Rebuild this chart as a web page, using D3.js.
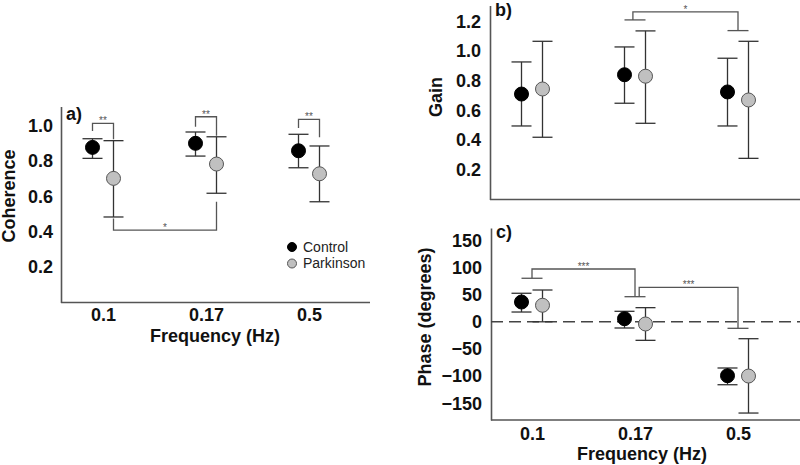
<!DOCTYPE html>
<html><head><meta charset="utf-8">
<script src="https://cdn.jsdelivr.net/npm/d3@7"></script>
<style>
body{margin:0;background:#fff;}
svg text{font-family:"Liberation Sans",Arial,sans-serif;}
</style></head>
<body><svg id="c" width="800" height="465"></svg>
<script>
const categories = ["0.1","0.17","0.5"];
const seriesNames = ["Control","Parkinson"];

// Panel a: coherence
const coherenceControl   = [0.876, 0.899, 0.857];
const coherenceControlLo = [0.814, 0.827, 0.761];
const coherenceControlHi = [0.925, 0.963, 0.950];
const coherencePark      = [0.701, 0.782, 0.727];
const coherenceParkLo    = [0.483, 0.617, 0.569];
const coherenceParkHi    = [0.914, 0.936, 0.884];
const coherenceTicks = [0.2, 0.4, 0.6, 0.8, 1.0];

// Panel b: gain
const gainControl   = [0.710, 0.840, 0.724];
const gainControlLo = [0.495, 0.648, 0.495];
const gainControlHi = [0.926, 1.027, 0.951];
const gainPark      = [0.744, 0.830, 0.670];
const gainParkLo    = [0.419, 0.513, 0.277];
const gainParkHi    = [1.065, 1.135, 1.065];
const gainTicks = [0.2, 0.4, 0.6, 0.8, 1.0, 1.2];

// Panel c: phase
const phaseControl   = [36.4, 5.7, -99.2];
const phaseControlLo = [18.0, -11.4, -115.8];
const phaseControlHi = [52.5, 19.3, -85.0];
const phasePark      = [30.4, -4.0, -99.8];
const phaseParkLo    = [0.0, -34.1, -167.9];
const phaseParkHi    = [58.5, 26.0, -31.1];
const phaseTicks = [-150, -100, -50, 0, 50, 100, 150];

// significance brackets (values in data units)
const coherenceBrackets = [
  {from:"0.1", fromS:"Control", to:"0.1", toS:"Parkinson", top:1.012, fromFoot:0.968, toFoot:0.922, label:"**"},
  {from:"0.17", fromS:"Control", to:"0.17", toS:"Parkinson", top:1.049, fromFoot:0.993, toFoot:0.942, label:"**"},
  {from:"0.5", fromS:"Control", to:"0.5", toS:"Parkinson", top:1.034, fromFoot:0.985, toFoot:0.934, label:"**"},
  {from:"0.1", fromS:"Parkinson", to:"0.17", toS:"Parkinson", top:0.409, fromFoot:0.475, toFoot:0.569, label:"*"}
];
const gainBrackets = [
  {from:"0.17", fromS:null, to:"0.5", toS:null, top:1.263, fromFoot:1.209, toFoot:1.137, label:"*", shift:-0.2}
];
const phaseBrackets = [
  {from:"0.1", fromS:null, to:"0.17", toS:null, top:97.2, fromFoot:80.1, toFoot:46.2, label:"***", shift:0},
  {from:"0.17", fromS:null, to:"0.5", toS:null, top:63.5, fromFoot:46.2, toFoot:-12.0, label:"***", shift:0.4, noFromCap:true}
];

const svg = d3.select("#c");
const AXIS = "#555", BAR = "#333";
const half = 10.5;

function panel(o){
  const g = svg.append("g");
  const x = d3.scalePoint().domain(categories).range(o.xr);
  const y = d3.scaleLinear().domain(o.yd).range(o.yr);
  const off = s => s === "Control" ? -half : (s === "Parkinson" ? half : 0);

  // y axis
  const ya = d3.axisLeft(y).tickValues(o.ticks).tickSize(0).tickPadding(o.tp).tickSizeOuter(0)
    .tickFormat(o.fmt);
  const yg = g.append("g").attr("transform",`translate(${o.ax},0)`).call(ya);
  yg.select(".domain").attr("stroke",AXIS).attr("stroke-width",1.6);
  yg.selectAll("text").attr("font-size",18).attr("font-weight","bold").attr("fill","#111")
    .attr("font-family","Liberation Sans, Arial, sans-serif");
  // x axis line
  g.append("line").attr("x1",o.ax).attr("x2",o.axEnd).attr("y1",y.range()[0]).attr("y2",y.range()[0])
    .attr("stroke",AXIS).attr("stroke-width",1.6);
  if(o.xlabels){
    const xa = d3.axisBottom(x).tickSize(0).tickPadding(o.xtp);
    const xg = g.append("g").attr("transform",`translate(0,${y.range()[0]})`).call(xa);
    xg.select(".domain").remove();
    xg.selectAll("text").attr("font-size",18).attr("font-weight","bold").attr("fill","#111")
      .attr("font-family","Liberation Sans, Arial, sans-serif");
    g.append("text").attr("x",o.titleX).attr("y",o.titleY).attr("text-anchor","middle")
      .attr("font-size",18).attr("font-weight","bold").attr("fill","#111").text("Frequency (Hz)");
  }
  // y title
  g.append("text").attr("transform",`translate(${o.ytx},${o.yty}) rotate(-90)`).attr("text-anchor","middle")
    .attr("font-size",18).attr("font-weight","bold").attr("fill","#111").text(o.ytitle);
  // panel letter
  g.append("text").attr("x",o.ax+5).attr("y",o.letterY).attr("font-size",18).attr("font-weight","bold")
    .attr("fill","#111").text(o.letter);

  if(o.zero){
    g.append("line").attr("x1",o.ax).attr("x2",o.axEnd).attr("y1",y(0)).attr("y2",y(0))
      .attr("stroke","#444").attr("stroke-width",1.5).attr("stroke-dasharray","12,6");
  }

  // brackets
  o.brackets.forEach(b=>{
    const bx1 = x(b.from) + (b.fromS ? off(b.fromS) : (b.shift||0)*half);
    const bx2 = x(b.to) + (b.toS ? off(b.toS) : 0);
    const ty = y(b.top);
    g.append("path").attr("fill","none").attr("stroke",AXIS).attr("stroke-width",1.3)
      .attr("d",`M${bx1},${y(b.fromFoot)}V${ty}H${bx2}V${y(b.toFoot)}`);
    if(!b.fromS){
      if(!b.noFromCap) g.append("line").attr("x1",x(b.from)-half).attr("x2",x(b.from)+half)
        .attr("y1",y(b.fromFoot)).attr("y2",y(b.fromFoot)).attr("stroke",AXIS).attr("stroke-width",1.3);
      g.append("line").attr("x1",x(b.to)-half).attr("x2",x(b.to)+half)
        .attr("y1",y(b.toFoot)).attr("y2",y(b.toFoot)).attr("stroke",AXIS).attr("stroke-width",1.3);
    }
    g.append("text").attr("x",(bx1+bx2)/2).attr("y",ty+1).attr("text-anchor","middle")
      .attr("font-size",10).attr("fill","#555").text(b.label);
  });

  // error bars + points
  const rows = [];
  categories.forEach((c,i)=>{
    rows.push({c, s:"Control", v:o.ctl[i], lo:o.ctlLo[i], hi:o.ctlHi[i]});
    rows.push({c, s:"Parkinson", v:o.pk[i], lo:o.pkLo[i], hi:o.pkHi[i]});
  });
  rows.forEach(r=>{
    const cx = x(r.c)+off(r.s);
    g.append("line").attr("x1",cx).attr("x2",cx).attr("y1",y(r.lo)).attr("y2",y(r.hi))
      .attr("stroke",BAR).attr("stroke-width",1.3);
    [r.lo,r.hi].forEach(v=>g.append("line").attr("x1",cx-10).attr("x2",cx+10).attr("y1",y(v)).attr("y2",y(v))
      .attr("stroke",BAR).attr("stroke-width",1.3));
  });
  rows.forEach(r=>{
    const cx = x(r.c)+off(r.s);
    g.append("circle").attr("cx",cx).attr("cy",y(r.v)).attr("r",7)
      .attr("fill", r.s==="Control" ? "#000" : "#c0c0c0")
      .attr("stroke", r.s==="Control" ? "#000" : "#555").attr("stroke-width",1);
  });
}

panel({xr:[103,309], yd:[0,1.107], yr:[302.5,106.5], ax:61, axEnd:370, ticks:coherenceTicks, tp:8,
  fmt:d3.format(".1f"), xlabels:true, xtp:6, titleX:215, titleY:342, ytx:15, yty:196, ytitle:"Coherence",
  letter:"a)", letterY:120, brackets:coherenceBrackets,
  ctl:coherenceControl, ctlLo:coherenceControlLo, ctlHi:coherenceControlHi,
  pk:coherencePark, pkLo:coherenceParkLo, pkHi:coherenceParkHi});

panel({xr:[532,738], yd:[0,1.306], yr:[199.5,5.5], ax:490, axEnd:800, ticks:gainTicks, tp:9,
  fmt:d3.format(".1f"), xlabels:false, ytx:442, yty:97, ytitle:"Gain",
  letter:"b)", letterY:16, brackets:gainBrackets,
  ctl:gainControl, ctlLo:gainControlLo, ctlHi:gainControlHi,
  pk:gainPark, pkLo:gainParkLo, pkHi:gainParkHi});

panel({xr:[532,738], yd:[-180.7,172.6], yr:[420,228], ax:491, axEnd:800, ticks:phaseTicks, tp:9,
  fmt:d3.format("d"), xlabels:true, xtp:7, titleX:642, titleY:460, ytx:431, yty:317, ytitle:"Phase (degrees)",
  letter:"c)", letterY:238, brackets:phaseBrackets, zero:true,
  ctl:phaseControl, ctlLo:phaseControlLo, ctlHi:phaseControlHi,
  pk:phasePark, pkLo:phaseParkLo, pkHi:phaseParkHi});

// legend
const legend = svg.append("g");
seriesNames.forEach((s,i)=>{
  legend.append("circle").attr("cx",292).attr("cy",247+i*16.5).attr("r",4.5)
    .attr("fill", i===0 ? "#000" : "#c0c0c0").attr("stroke", i===0 ? "#000" : "#555").attr("stroke-width",1);
  legend.append("text").attr("x",303).attr("y",252+i*16).attr("font-size",14).attr("fill","#222").text(s);
});
</script></body></html>
